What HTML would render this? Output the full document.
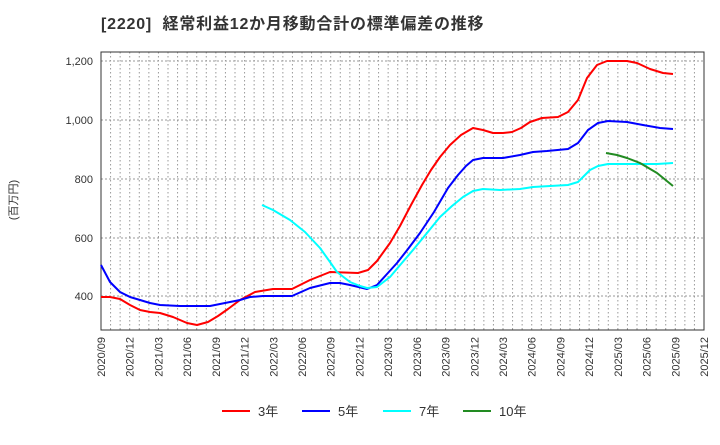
<!DOCTYPE html>
<html><head><meta charset="utf-8"><style>
body{margin:0;background:#fff;font-family:"Liberation Sans","Noto Sans CJK JP",sans-serif;}
</style></head><body>
<svg width="720" height="440" xmlns="http://www.w3.org/2000/svg" font-family="Liberation Sans, Noto Sans CJK JP, sans-serif">
<rect width="720" height="440" fill="#fff"/>
<text x="101" y="29" font-size="16" font-weight="bold" fill="#333" letter-spacing="0.8" xml:space="preserve">[2220]  経常利益12か月移動合計の標準偏差の推移</text>
<g id="grid" stroke="#999" stroke-width="1" stroke-dasharray="1.5,2.5"></g>
<g stroke="#999" stroke-width="1" stroke-dasharray="2,2">
<line x1="101" y1="61" x2="704" y2="61"/><line x1="101" y1="120" x2="704" y2="120"/>
<line x1="101" y1="179" x2="704" y2="179"/><line x1="101" y1="238" x2="704" y2="238"/><line x1="101" y1="296" x2="704" y2="296"/>
</g>
<rect x="101" y="52" width="603" height="278" fill="none" stroke="#333" stroke-width="1"/>
<g font-size="11" fill="#333" text-anchor="end">
<text x="93" y="65">1,200</text><text x="93" y="124">1,000</text><text x="93" y="183">800</text><text x="93" y="242">600</text><text x="93" y="300">400</text>
</g>
<text transform="translate(17,200) rotate(-90)" font-size="11" fill="#333" text-anchor="middle">(百万円)</text>
<g id="xl" font-size="11" fill="#333"></g>
<g fill="none" stroke-width="2" stroke-linejoin="round">
<polyline stroke="#ff0000" points="101,297 110,297 120,299 130,305 140,310 150,312 160,313 173,317 187,323 197,325 208,322 218,316 228,309 240,300 255,292 273,289 292,289 310,280 330,272 358,273 368,270 377,261 390,243 400,226 411,205 422,185 431,170 440,157 450,145 461,135 473,128 483,130 493,133 503,133 512,132 521,128 530,122 542,118 558,117 568,112 578,100 587,78 597,65 607,61 627,61 637,63 650,69 663,73 673,74"/>
<polyline stroke="#0000ff" points="101,265 110,282 120,292 130,297 140,300 150,303 160,305 180,306 210,306 220,304 230,302 240,300 250,297 263,296 280,296 292,296 310,288 330,283 340,283 350,285 367,289 377,285 387,274 397,263 408,249 420,233 434,212 448,188 458,175 466,166 473,160 483,158 503,158 520,155 533,152 547,151 568,149 578,143 588,130 598,123 608,121 627,122 643,125 660,128 673,129"/>
<polyline stroke="#00ffff" points="262,205 273,210 290,220 305,232 320,248 330,262 337,272 350,282 360,286 367,288 377,287 390,277 401,264 413,250 427,233 440,217 452,206 463,197 473,191 483,189 500,190 520,189 533,187 550,186 568,185 578,182 590,170 598,166 608,164 637,164 657,164 673,163"/>
<polyline stroke="#228b22" points="606,153 617,155 627,158 640,163 657,173 673,186"/>
</g>
<g font-size="13" fill="#333">
<line x1="222" y1="411" x2="250" y2="411" stroke="#ff0000" stroke-width="2"/><text x="258" y="416">3年</text>
<line x1="302" y1="411" x2="330" y2="411" stroke="#0000ff" stroke-width="2"/><text x="338" y="416">5年</text>
<line x1="383" y1="411" x2="411" y2="411" stroke="#00ffff" stroke-width="2"/><text x="419" y="416">7年</text>
<line x1="463" y1="411" x2="491" y2="411" stroke="#228b22" stroke-width="2"/><text x="499" y="416">10年</text>
</g>
</svg>
<script>
var ns="http://www.w3.org/2000/svg",g=document.getElementById('grid'),xl=document.getElementById('xl');
for(var m=1;m<63;m++){var x=101+m*603/63;var l=document.createElementNS(ns,'line');l.setAttribute('x1',x);l.setAttribute('x2',x);l.setAttribute('y1',52);l.setAttribute('y2',330);g.appendChild(l);}
for(var q=0;q<=21;q++){var m=q*3,x=101+m*603/63;var mo=9+m,y=2020+Math.floor((mo-1)/12),mm=((mo-1)%12)+1;
var t=document.createElementNS(ns,'text');t.setAttribute('transform','translate('+(x+4)+',337) rotate(-90)');t.setAttribute('text-anchor','end');
t.textContent=y+'/'+(mm<10?'0':'')+mm;xl.appendChild(t);}
</script>
</body></html>
